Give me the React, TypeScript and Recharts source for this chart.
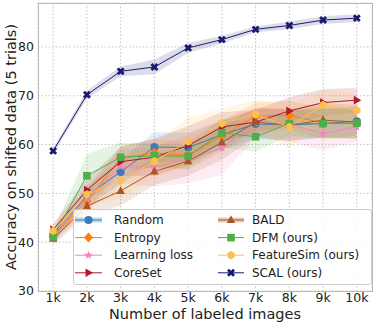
import React from "react";
import {
    ComposedChart,
    Line,
    Area,
    XAxis,
    YAxis,
    CartesianGrid,
} from "recharts";

// labeled images (in thousands)
const xValues = [1, 2, 3, 4, 5, 6, 7, 8, 9, 10];
const xTicks = [1, 2, 3, 4, 5, 6, 7, 8, 9, 10];
const yTicks = [30, 40, 50, 60, 70, 80];

// mean accuracy per method
const random = [41.3, 49.5, 54.4, 59.5, 59.4, 62.0, 64.2, 64.0, 64.3, 64.8];
const entropy = [41.1, 48.4, 57.2, 58.3, 57.8, 61.7, 65.8, 66.0, 64.4, 64.3];
const learningLoss = [41.6, 49.0, 55.5, 55.4, 57.0, 59.3, 64.4, 64.1, 62.3, 63.6];
const coreset = [42.6, 50.7, 56.5, 57.4, 59.8, 63.6, 64.6, 66.9, 68.6, 69.1];
const bald = [40.7, 47.4, 50.5, 54.5, 56.6, 60.4, 64.6, 64.0, 65.0, 64.6];
const dfm = [41.1, 53.6, 57.4, 57.7, 57.6, 62.4, 61.6, 64.3, 64.3, 64.4];
const featureSim = [42.3, 49.8, 52.6, 56.6, 60.6, 64.3, 66.2, 63.6, 68.1, 67.0];
const scal = [58.7, 70.2, 75.0, 75.9, 79.8, 81.5, 83.6, 84.4, 85.5, 85.9];

// std over 5 trials (band half-width)
const randomStd = [1.2, 2.0, 2.5, 3.0, 3.0, 3.0, 3.0, 3.2, 3.0, 3.0];
const entropyStd = [1.2, 2.2, 2.5, 2.8, 3.0, 3.2, 2.8, 3.0, 3.2, 3.0];
const learningLossStd = [1.2, 2.5, 3.5, 4.0, 5.0, 5.5, 3.0, 3.5, 3.5, 3.0];
const coresetStd = [1.2, 2.2, 3.0, 3.8, 4.0, 3.0, 2.5, 2.8, 2.8, 2.5];
const baldStd = [1.2, 2.0, 3.0, 2.8, 3.0, 3.5, 3.0, 3.2, 3.5, 3.5];
const dfmStd = [1.2, 4.5, 3.0, 2.5, 2.5, 3.0, 3.0, 2.5, 3.0, 3.0];
const featureSimStd = [1.2, 2.5, 3.5, 3.5, 5.0, 3.0, 3.0, 4.5, 3.0, 3.5];
const scalStd = [0.6, 0.8, 1.0, 1.5, 1.0, 0.8, 0.6, 0.8, 0.8, 0.8];

type Shape = "circle" | "diamond" | "star" | "right" | "up" | "square" | "hexagon" | "x";

const SERIES: { key: string; name: string; color: string; shape: Shape; mean: number[]; std: number[] }[] = [
    { key: "random", name: "Random", color: "#377eb8", shape: "circle", mean: random, std: randomStd },
    { key: "entropy", name: "Entropy", color: "#ff7f00", shape: "diamond", mean: entropy, std: entropyStd },
    { key: "learningLoss", name: "Learning loss", color: "#f781bf", shape: "star", mean: learningLoss, std: learningLossStd },
    { key: "coreset", name: "CoreSet", color: "#b2182b", shape: "right", mean: coreset, std: coresetStd },
    { key: "bald", name: "BALD", color: "#a65628", shape: "up", mean: bald, std: baldStd },
    { key: "dfm", name: "DFM (ours)", color: "#4daf4a", shape: "square", mean: dfm, std: dfmStd },
    { key: "featureSim", name: "FeatureSim (ours)", color: "#fdc04e", shape: "hexagon", mean: featureSim, std: featureSimStd },
    { key: "scal", name: "SCAL (ours)", color: "#191970", shape: "x", mean: scal, std: scalStd },
];

const rows = xValues.map((x, i) => {
    const row: Record<string, any> = { x };
    SERIES.forEach((s) => {
        row[s.key] = s.mean[i];
        row[s.key + "Band"] = [s.mean[i] - s.std[i], s.mean[i] + s.std[i]];
    });
    return row;
});

function markerPath(shape: Shape, cx: number, cy: number): string {
    const pts = (arr: number[][]) => arr.map((p) => `${cx + p[0]},${cy + p[1]}`).join(" ");
    switch (shape) {
        case "diamond":
            return pts([[0, -5], [4.5, 0], [0, 5], [-4.5, 0]]);
        case "right":
            return pts([[4.5, 0], [-3, -4.3], [-3, 4.3]]);
        case "up":
            return pts([[0, -4.8], [4.2, 3], [-4.2, 3]]);
        case "square":
            return pts([[-3.8, -3.8], [3.8, -3.8], [3.8, 3.8], [-3.8, 3.8]]);
        case "hexagon": {
            const a: number[][] = [];
            for (let k = 0; k < 6; k++) {
                const t = (Math.PI / 3) * k + Math.PI / 6;
                a.push([4.2 * Math.cos(t), 4.2 * Math.sin(t)]);
            }
            return pts(a);
        }
        case "star": {
            const a: number[][] = [];
            for (let k = 0; k < 10; k++) {
                const r = k % 2 === 0 ? 4.5 : 1.9;
                const t = -Math.PI / 2 + (Math.PI / 5) * k;
                a.push([r * Math.cos(t), r * Math.sin(t)]);
            }
            return pts(a);
        }
        case "x": {
            const w = 1.4;
            const r = 4.2;
            const plus = [[-w, -r], [w, -r], [w, -w], [r, -w], [r, w], [w, w], [w, r], [-w, r], [-w, w], [-r, w], [-r, -w], [-w, -w]];
            const c = Math.SQRT1_2;
            return pts(plus.map(([px, py]) => [px * c - py * c, px * c + py * c]));
        }
        default:
            return "";
    }
}

function Marker({ shape, cx, cy, color }: { shape: Shape; cx: number; cy: number; color: string }) {
    if (shape === "circle") return <circle cx={cx} cy={cy} r={4} fill={color} />;
    return <polygon points={markerPath(shape, cx, cy)} fill={color} />;
}

function dotRenderer(shape: Shape, color: string, key: string) {
    return (p: any) => {
        if (p.cx == null || p.cy == null) return <g key={`${key}-${p.index}`} />;
        return <Marker key={`${key}-${p.index}`} shape={shape} cx={p.cx} cy={p.cy} color={color} />;
    };
}

function YTitle({ viewBox }: any) {
    const cy = viewBox.y + viewBox.height / 2;
    return (
        <text x={11} y={cy} transform={`rotate(-90 11 ${cy})`} textAnchor="middle" dominantBaseline="central" fontSize={14.5} fill="#222">
            Accuracy on shifted data (5 trials)
        </text>
    );
}

function XTitle({ viewBox }: any) {
    const cx = viewBox.x + viewBox.width / 2;
    return (
        <text x={cx} y={319} textAnchor="middle" fontSize={14.5} fill="#222">
            Number of labeled images
        </text>
    );
}

function LegendBox() {
    const cols = [
        { marker: 14.5, line: [1, 28], text: 40 },
        { marker: 157, line: [144, 170], text: 178 },
    ];
    return (
        <div
            style={{
                position: "absolute",
                left: 73,
                top: 209,
                width: 297,
                height: 74,
                background: "rgba(255,255,255,0.8)",
                border: "1px solid #cccccc",
                borderRadius: 3,
            }}
        >
            <svg width={297} height={74}>
                {SERIES.map((s, i) => {
                    const c = cols[Math.floor(i / 4)];
                    const y = 10 + (i % 4) * 17.6;
                    const thick = s.key === "random" || s.key === "bald";
                    return (
                        <g key={s.key}>
                            {thick && (
                                <line x1={c.line[0]} x2={c.line[1]} y1={y} y2={y} stroke={s.color} strokeOpacity={0.3} strokeWidth={5} />
                            )}
                            <line x1={c.line[0]} x2={c.line[1]} y1={y} y2={y} stroke={s.color} strokeWidth={1} />
                            <Marker shape={s.shape} cx={c.marker} cy={y} color={s.color} />
                            <text x={c.text} y={y} dominantBaseline="central" fontSize={12} fill="#222">
                                {s.name}
                            </text>
                        </g>
                    );
                })}
            </svg>
        </div>
    );
}

export default function App() {
    return (
        <div
            style={{
                position: "absolute",
                left: 0,
                top: 0,
                width: 375,
                height: 325,
                background: "#fff",
                fontFamily: "'DejaVu Sans', sans-serif",
            }}
        >
            <ComposedChart width={375} height={325} data={rows} margin={{ top: 3, right: 3, bottom: 0, left: 0 }}>
                <CartesianGrid stroke="#c4c4c4" strokeDasharray="1.5 2" />
                <XAxis
                    dataKey="x"
                    type="number"
                    domain={[0.55, 10.45]}
                    ticks={xTicks}
                    allowDataOverflow
                    tickFormatter={(v) => `${v}k`}
                    height={34}
                    axisLine={false}
                    tickLine={false}
                    tickSize={0}
                    tickMargin={2}
                    tick={{ fontSize: 12.5, fill: "#222" }}
                    label={<XTitle />}
                />
                <YAxis
                    type="number"
                    domain={[30, 89]}
                    ticks={yTicks}
                    allowDataOverflow
                    width={38}
                    axisLine={false}
                    tickLine={false}
                    tickSize={0}
                    tickMargin={4}
                    tick={{ fontSize: 12.5, fill: "#222" }}
                    label={<YTitle />}
                />
                {SERIES.map((s) => (
                    <Area
                        key={s.key + "Band"}
                        dataKey={s.key + "Band"}
                        type="linear"
                        stroke="none"
                        fill={s.color}
                        fillOpacity={0.15}
                        isAnimationActive={false}
                        activeDot={false}
                        dot={false}
                        legendType="none"
                    />
                ))}
                {SERIES.map((s) => (
                    <Line
                        key={s.key}
                        dataKey={s.key}
                        name={s.name}
                        type="linear"
                        stroke={s.color}
                        strokeWidth={1}
                        dot={dotRenderer(s.shape, s.color, s.key)}
                        activeDot={false}
                        isAnimationActive={false}
                    />
                ))}
            </ComposedChart>
            <div
                style={{
                    position: "absolute",
                    left: 38,
                    top: 3,
                    width: 333,
                    height: 287,
                    border: "1px solid #b8b8b8",
                    pointerEvents: "none",
                }}
            />
            <LegendBox />
        </div>
    );
}
